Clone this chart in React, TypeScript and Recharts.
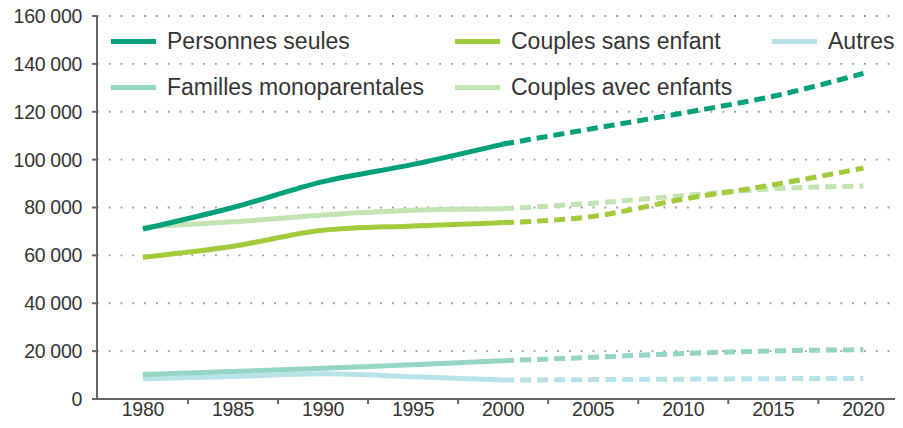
import React from 'react'
import {
  LineChart,
  Line,
  XAxis,
  YAxis,
  CartesianGrid,
  Legend,
} from 'recharts'

const years = [1980, 1985, 1990, 1995, 2000, 2005, 2010, 2015, 2020]
const personnesSeules = [71000, 80000, 90800, 98000, 106500, 113000, 119500, 126500, 136000]
const couplesSansEnfant = [59200, 63800, 70500, 72300, 73700, 76300, 83500, 89500, 96500]
const couplesAvecEnfants = [71800, 74000, 76900, 78900, 79500, 81800, 85000, 87800, 89000]
const famillesMono = [10200, 11500, 12800, 14300, 16000, 17400, 19000, 20100, 20600]
const autres = [8400, 9400, 10500, 9300, 7900, 8100, 8300, 8500, 8600]

const yTicks = [0, 20000, 40000, 60000, 80000, 100000, 120000, 140000, 160000]
const xLabels = years
const xTickMarks = [1982.5, 1987.5, 1992.5, 1997.5, 2002.5, 2007.5, 2012.5, 2017.5]
const lastObserved = 2000

const series = [
  { key: 'ps', name: 'Personnes seules', values: personnesSeules, color: '#00a07a', width: 5 },
  { key: 'cse', name: 'Couples sans enfant', values: couplesSansEnfant, color: '#a2cb3c', width: 5 },
  { key: 'aut', name: 'Autres', values: autres, color: '#b6e2e8', width: 5 },
  { key: 'fm', name: 'Familles monoparentales', values: famillesMono, color: '#94d5c4', width: 5 },
  { key: 'cae', name: 'Couples avec enfants', values: couplesAvecEnfants, color: '#c2e3b2', width: 5 },
]

// draw order (back to front)
const drawOrder = ['aut', 'fm', 'cae', 'cse', 'ps']

const data = years.map((year, i) => {
  const row: Record<string, number | undefined> = { year }
  series.forEach((s) => {
    row[s.key] = year <= lastObserved ? s.values[i] : undefined
    row[s.key + 'P'] = year >= lastObserved ? s.values[i] : undefined
  })
  return row
})

const FONT = '"Liberation Sans", Arial, Helvetica, sans-serif'
const TEXT = '#353535'
const AXIS = '#666'

const fmt = (v: number) => String(v).replace(/\B(?=(\d{3})+(?!\d))/g, ' ')

const XTick = ({ x, y, payload }: any) => {
  const v = payload.value
  if (v % 5 !== 0) {
    return <line x1={x} x2={x} y1={y - 8} y2={y - 3} stroke={AXIS} strokeWidth={2} />
  }
  return (
    <text x={x} y={y + 9} textAnchor="middle" fill={TEXT} fontSize={19.5} fontFamily={FONT} letterSpacing={-0.3}>
      {v}
    </text>
  )
}

const LegendBox = () => {
  const cols = [111, 455, 772]
  const rows = [41.5, 87]
  return (
    <div style={{ position: 'relative', width: 903, height: 110 }}>
      {series.map((s, i) => (
        <div
          key={s.key}
          style={{
            position: 'absolute',
            left: cols[i % 3],
            top: rows[Math.floor(i / 3)] - 14,
            height: 28,
            display: 'flex',
            alignItems: 'center',
            whiteSpace: 'nowrap',
          }}
        >
          <span style={{ display: 'inline-block', width: 45, height: 5, background: s.color, marginRight: 11 }} />
          <span style={{ fontFamily: FONT, fontSize: 23, color: TEXT }}>{s.name}</span>
        </div>
      ))}
    </div>
  )
}

export default function App() {
  return (
    <div style={{ margin: -8, width: 903, height: 428, background: '#fff' }}>
      <LineChart width={903} height={428} data={data} margin={{ top: 16, right: 0, bottom: 0, left: 0 }}>
        <CartesianGrid vertical={false} stroke="#9a9a9a" strokeWidth={1.8} strokeDasharray="1.8 10" />
        <XAxis
          dataKey="year"
          type="number"
          domain={[1977.45, 2022.2]}
          ticks={[...xLabels, ...xTickMarks].sort((a, b) => a - b)}
          interval={0}
          tick={<XTick />}
          tickLine={false}
          axisLine={{ stroke: AXIS, strokeWidth: 2 }}
          height={29}
          allowDataOverflow
        />
        <YAxis
          domain={[0, 160000]}
          ticks={yTicks}
          interval={0}
          width={97}
          tickFormatter={fmt}
          tickSize={5}
          tickMargin={10}
          tick={{ fill: TEXT, fontSize: 19.5, fontFamily: FONT, letterSpacing: -0.3 }}
          tickLine={{ stroke: AXIS, strokeWidth: 2 }}
          axisLine={{ stroke: AXIS, strokeWidth: 2 }}
        />
        <Legend
          layout="horizontal"
          verticalAlign="middle"
          align="center"
          wrapperStyle={{ top: 0, left: 0, width: 903 }}
          content={<LegendBox />}
        />
        {drawOrder.map((k) => {
          const s = series.find((d) => d.key === k)!
          return (
            <React.Fragment key={k}>
              <Line
                dataKey={k}
                name={s.name}
                type="monotone"
                stroke={s.color}
                strokeWidth={s.width}
                dot={false}
                activeDot={false}
                isAnimationActive={false}
              />
              <Line
                dataKey={k + 'P'}
                name={s.name + ' (projection)'}
                legendType="none"
                type="monotone"
                stroke={s.color}
                strokeWidth={s.width}
                strokeDasharray="11 6"
                dot={false}
                activeDot={false}
                isAnimationActive={false}
              />
            </React.Fragment>
          )
        })}
      </LineChart>
    </div>
  )
}
